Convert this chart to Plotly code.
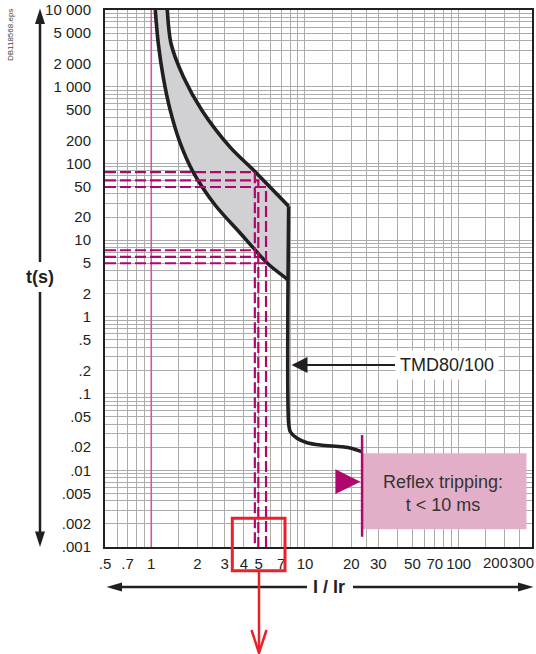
import numpy as np
import plotly.graph_objects as go

# ---------------- data ----------------
# upper (slow) limit of the thermal-magnetic trip band
upper_I = [1.271, 1.344, 1.623, 2.138, 3.268, 4.634, 7.833]
upper_t = [10000, 3663, 1333, 491, 162, 81.3, 27.6]
# lower (fast) limit of the trip band
lower_I = [1.062, 1.111, 1.197, 1.329, 1.545, 1.877, 2.610, 3.797, 4.755, 5.691, 7.833]
lower_t = [10000, 3663, 1321, 491, 182.6, 76.5, 28.5, 12.3, 7.38, 5.0, 3.0]
# magnetic part (vertical) and instantaneous tail
tail_I = [7.833, 7.833, 8.03, 8.88, 10.32, 12.6, 17.44, 20.26, 23.53]
tail_t = [27.6, 0.0409, 0.0318, 0.0261, 0.02285, 0.02133, 0.02025, 0.0193, 0.01743]

# dashed reading lines
dash_I = [4.72, 4.97, 5.58]
dash_t_high = [77.2, 60.2, 49.3]
dash_t_low = [7.38, 6.04, 5.0]

# reflex tripping zone
reflex_I = [23.53, 276]
reflex_t = [0.0017, 0.01663]
reflex_line_t = [0.00136, 0.0288]
reflex_tri_I = [15.77, 22.95, 15.77]
reflex_tri_t = [0.01029, 0.00709, 0.0049]

ir_line_I = 1
label_curve = "TMD80/100"
label_reflex = "Reflex tripping:<br>t &lt; 10 ms"

x_tickvals = [0.5, 0.7, 1, 2, 3, 4, 5, 7, 10, 20, 30, 50, 70, 100, 200, 300]
x_ticktext = [".5", ".7", "1", "2", "3", "4", "5", "7", "10", "20", "30", "50", "70", "100", "200", "300"]
y_tickvals = [10000, 5000, 2000, 1000, 500, 200, 100, 50, 20, 10, 5, 2, 1, 0.5, 0.2, 0.1,
              0.05, 0.02, 0.01, 0.005, 0.002, 0.001]
y_ticktext = ["10 000", "5 000", "2 000", "1 000", "500", "200", "100", "50", "20", "10", "5", "2",
              "1", ".5", ".2", ".1", ".05", ".02", ".01", ".005", ".002", ".001"]

x_grid_steps = [1, 1.5, 2, 2.5, 3, 4, 5, 6, 7, 8, 9]
y_grid_steps = [1, 2, 3, 4, 5, 6, 7, 8, 9]

# ---------------- layout geometry ----------------
W, H = 536, 654
L, R, T, B = 105, 4, 10, 107
PW, PH = W - L - R, H - T - B
FONT = "Liberation Sans, Arial, Helvetica, sans-serif"
INK = "#231f20"
GRID = "#acacac"
MAGENTA = "#b0076d"
PINKLINE = "#cf58a0"


def fx(p):
    return (p - L) / PW


def fy(p):
    return (H - B - p) / PH


x_grid = sorted({round(k * b, 6) for b in [0.1, 1, 10, 100] for k in x_grid_steps
                 if 0.5 <= k * b <= 300})
y_grid = sorted({round(k * 10.0 ** e, 8) for e in range(-3, 4) for k in y_grid_steps})

# the last two x labels are squeezed against the right edge of the page:
# they are drawn as annotations, the axis keeps the other labels
x_ticktext_axis = x_ticktext[:-2] + ["", ""]

fig = go.Figure()

# gray band (lower curve reversed, across the top, down the upper curve)
band_I = lower_I[::-1] + upper_I
band_t = lower_t[::-1] + upper_t
fig.add_trace(go.Scatter(x=band_I, y=band_t, mode="lines", fill="toself",
                         fillcolor="#d1d1d3", line=dict(width=0, shape="spline"),
                         hoverinfo="skip", showlegend=False))

# Ir reference line
fig.add_trace(go.Scatter(x=[ir_line_I, ir_line_I], y=[0.001, 10000], mode="lines",
                         line=dict(color=PINKLINE, width=1.6), showlegend=False))

# pink box for reflex tripping
fig.add_trace(go.Scatter(x=[reflex_I[0], reflex_I[1], reflex_I[1], reflex_I[0]],
                         y=[reflex_t[0], reflex_t[0], reflex_t[1], reflex_t[1]],
                         mode="lines", fill="toself", fillcolor="#e3afc8",
                         line=dict(width=0), showlegend=False))

# black curves
for xs, ys in [(upper_I, upper_t), (lower_I, lower_t), (tail_I, tail_t)]:
    fig.add_trace(go.Scatter(x=xs, y=ys, mode="lines",
                             line=dict(color=INK, width=3.6, shape="spline", smoothing=0.8),
                             showlegend=False))

# dashed reading lines
dx, dy = [], []
for i in range(len(dash_I)):
    dx += [0.5, dash_I[i], dash_I[i], None, 0.5, dash_I[i], None]
    dy += [dash_t_high[i], dash_t_high[i], 0.001, None, dash_t_low[i], dash_t_low[i], None]
fig.add_trace(go.Scatter(x=dx, y=dy, mode="lines",
                         line=dict(color=MAGENTA, width=2.2, dash="11px,4px"),
                         showlegend=False))

# reflex line and triangle
fig.add_trace(go.Scatter(x=[reflex_I[0], reflex_I[0]], y=reflex_line_t, mode="lines",
                         line=dict(color=MAGENTA, width=2.5), showlegend=False))
fig.add_trace(go.Scatter(x=reflex_tri_I, y=reflex_tri_t, mode="lines", fill="toself",
                         fillcolor=MAGENTA, line=dict(width=0), showlegend=False))

axis_common = dict(type="log", showline=True, mirror=True, linecolor=INK, linewidth=2,
                   showgrid=True, gridcolor=GRID, gridwidth=1, zeroline=False,
                   ticks="outside", tickcolor="rgba(0,0,0,0)", tickangle=0,
                   tickfont=dict(family=FONT, size=15, color=INK))

fig.update_xaxes(range=[np.log10(0.5), np.log10(300)], tickmode="array",
                 tickvals=x_tickvals, ticktext=x_ticktext_axis, ticklen=2,
                 minor=dict(tickmode="array", tickvals=x_grid, showgrid=True,
                            gridcolor=GRID, gridwidth=1, ticks=""),
                 **axis_common)
fig.update_yaxes(range=[-3, 4], tickmode="array",
                 tickvals=y_tickvals, ticktext=y_ticktext, ticklen=9,
                 minor=dict(tickmode="array", tickvals=y_grid, showgrid=True,
                            gridcolor=GRID, gridwidth=1, ticks=""),
                 **axis_common)

shapes = []


def line(x0, y0, x1, y1, color=INK, width=2.5):
    shapes.append(dict(type="line", xref="paper", yref="paper", x0=fx(x0), y0=fy(y0),
                       x1=fx(x1), y1=fy(y1), line=dict(color=color, width=width)))


def poly(pts, color=INK, fill=True, width=0):
    d = "M " + " L ".join(f"{fx(a):.5f},{fy(b):.5f}" for a, b in pts)
    if fill:
        d += " Z"
    shapes.append(dict(type="path", xref="paper", yref="paper", path=d,
                       fillcolor=color if fill else "rgba(0,0,0,0)",
                       line=dict(color=color, width=width)))


# vertical t(s) arrow
line(40, 22, 40, 262)
line(40, 292, 40, 533)
poly([(40, 8.5), (35, 24), (45, 24)])
poly([(40, 547), (35, 531.5), (45, 531.5)])
# horizontal I/Ir arrow
line(120, 587, 307, 587)
line(353, 587, 520, 587)
poly([(106.5, 587), (122, 582.5), (122, 591.5)])
poly([(533.5, 587), (518, 582.5), (518, 591.5)])
# red highlight box and arrow
shapes.append(dict(type="rect", xref="paper", yref="paper", x0=fx(232.3), x1=fx(285),
                   y0=fy(570.7), y1=fy(518.3), line=dict(color="#e8212a", width=3)))
line(259, 572, 259, 652, color="#e8212a", width=2.5)
poly([(251.5, 630), (259, 653), (266.5, 630)], color="#e8212a", fill=False, width=2.5)

annotations = [
    dict(text=x_ticktext[-2], x=fx(510), y=fy(562.5), xref="paper", yref="paper",
         showarrow=False, font=dict(family=FONT, size=15, color=INK),
         xanchor="right", yanchor="middle"),
    dict(text=x_ticktext[-1], x=fx(535.5), y=fy(562.5), xref="paper", yref="paper",
         showarrow=False, font=dict(family=FONT, size=15, color=INK),
         xanchor="right", yanchor="middle"),
    dict(text="<b>t(s)</b>", x=fx(40), y=fy(277), xref="paper", yref="paper",
         showarrow=False, font=dict(family=FONT, size=18, color=INK),
         xanchor="center", yanchor="middle"),
    dict(text="<b>I / Ir</b>", x=fx(328.5), y=fy(587), xref="paper", yref="paper",
         showarrow=False, font=dict(family=FONT, size=18, color=INK),
         xanchor="center", yanchor="middle"),
    dict(text="DB118568.eps", x=fx(10), y=fy(35), xref="paper", yref="paper",
         showarrow=False, textangle=-90, font=dict(family=FONT, size=8, color="#444"),
         xanchor="center", yanchor="middle"),
    dict(text=label_reflex, x=fx(443), y=fy(493.3), xref="paper", yref="paper",
         showarrow=False, font=dict(family=FONT, size=18, color="#333"),
         xanchor="center", yanchor="middle"),
    dict(text=label_curve, x=fx(291.5), y=fy(365), xref="paper", yref="paper",
         showarrow=True, ax=155, ay=0, arrowhead=2, arrowsize=1.6, arrowwidth=2,
         arrowcolor=INK, standoff=0, bgcolor="white", borderpad=4,
         font=dict(family=FONT, size=18, color=INK)),
]

fig.update_layout(width=W, height=H, margin=dict(l=L, r=R, t=T, b=B, autoexpand=False),
                  paper_bgcolor="white", plot_bgcolor="white", showlegend=False,
                  shapes=shapes, annotations=annotations,
                  font=dict(family=FONT, color=INK))

fig.write_html("out.html", config={"displayModeBar": False},
               post_script="document.body.style.margin='0';document.body.style.overflow='hidden';")
